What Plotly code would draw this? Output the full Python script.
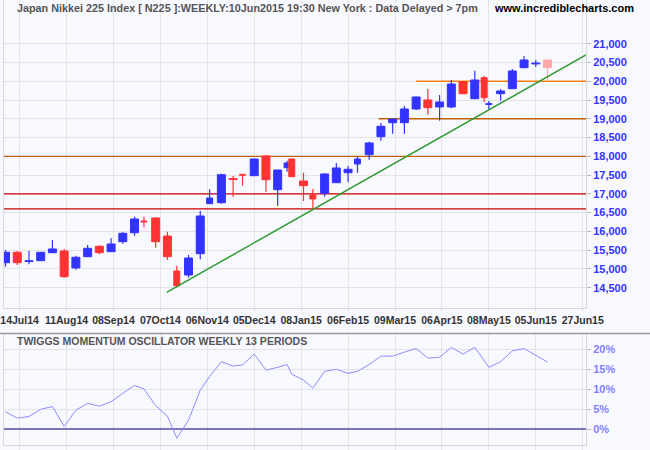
import numpy as np
import plotly.graph_objects as go

# ---------------- data ----------------
# trading sessions in each weekly bar (holiday weeks are shorter)
sessions = [5, 5, 5, 5, 5, 5, 5, 5, 5, 5, 5, 5,
            4, 5, 5, 4, 5, 5, 4, 5, 5, 4, 5, 5, 5, 4, 2, 5, 4, 5, 5, 5, 4,
            5, 5, 5, 5, 5, 5, 5, 5, 5, 5,
            4, 2,
            5, 5, 5, 5, 5]

opens = [15166, 15443, 15195, 15219, 15432, 15478, 15025, 15326, 15603, 15459,
         15725, 15965, 16265, 16357, 15877, 14945, 14838, 15406, 16738, 16764,
         17395, 17510, 17484, 18008, 17111, 17697, 17928, 17342, 16969, 17015,
         17297, 17563, 17795, 18043, 18522, 18895, 18895, 19260, 19500, 19314,
         19314, 19988, 19535, 20094, 19380, 19668, 19801, 20361, 20460, 20566]
highs = [15504, 15478, 15478, 15450, 15771, 15531, 15352, 15637, 15629, 15816,
         15984, 16391, 16391, 16370, 15992, 15078, 15371, 16551, 17121, 17537,
         17476, 17515, 17935, 18043, 17640, 17883, 17935, 17563, 17129, 17540,
         17822, 17742, 17990, 18389, 18887, 19000, 19340, 19590, 19793, 19633,
         20033, 20000, 20281, 20140, 19474, 19793, 20326, 20672, 20574, 20566]
lows = [15059, 15105, 15123, 15210, 15425, 14766, 14979, 15320, 15390, 15450,
        15672, 15885, 16109, 15565, 15238, 14511, 14766, 15256, 16730, 16738,
        16924, 17217, 17480, 17057, 16684, 17590, 17450, 16810, 16588, 16924,
        17290, 17308, 17563, 17910, 18416, 18602, 18602, 19234, 19109, 18949,
        19280, 19660, 19519, 19439, 19260, 19482, 19795, 20345, 20379, 20041]
closes = [15443, 15166, 15205, 15443, 15531, 14793, 15310, 15549, 15432, 15664,
          15949, 16330, 16250, 15725, 15326, 14553, 15291, 16410, 16889, 17510,
          17380, 17495, 17928, 17377, 17635, 17822, 17457, 17217, 16863, 17529,
          17689, 17654, 17928, 18355, 18800, 18994, 19260, 19580, 19295, 19447,
          19926, 19668, 20033, 19561, 19392, 19740, 20273, 20566, 20472, 20361]

# Twiggs Momentum Oscillator (13 weeks), percent
momentum = [4.4, 2.8, 3.2, 5.0, 5.7, 0.7, 4.8, 6.5, 5.8, 6.9,
            9.0, 11.0, 10.1, 5.9, 3.3, -2.2, 2.3, 9.8, 13.2, 16.9,
            15.8, 16.1, 18.8, 14.8, 15.5, 16.2, 13.8, 12.3, 10.3, 14.5,
            15.0, 14.0, 14.5, 16.2, 18.3, 18.3, 19.3, 20.2, 17.8, 18.0,
            20.5, 18.8, 20.5, 17.0, 15.5, 16.9, 19.6, 20.2, 18.6, 16.8]

tick_labels = ["14Jul14", "11Aug14", "08Sep14", "07Oct14", "06Nov14", "05Dec14",
               "08Jan15", "06Feb15", "09Mar15", "06Apr15", "08May15", "05Jun15",
               "27Jun15"]
first_tick_session = 6
tick_step = 20

price_ticks = list(range(14500, 21001, 500))
mom_ticks = [0, 5, 10, 15, 20]

# horizontal support/resistance levels (price, starting session or None = full)
levels = [16600, 17000, 18000, 19000, 20000]
level_start = [None, None, None, 159, 175]
level_colors = ["#cc0000", "#cc0000", "#c06000", "#c06000", "#f08010"]

# trendline anchors (session, price)
trend_x = [68.7, 247.4]
trend_y = [14377, 20700]

# ---------------- build ----------------
x = np.cumsum(sessions) - sessions[0]
n = len(x)
BLUE, RED, PINK = "#3333ff", "#ff3333", "#ffaaaa"
colors = []
for i in range(n):
    if i == n - 1:
        colors.append(PINK)
    elif closes[i] >= opens[i]:
        colors.append(BLUE)
    else:
        colors.append(RED)

fig = go.Figure()

xr = [-0.64, 247.4]

# levels
for lv, st, lc in zip(levels, level_start, level_colors):
    fig.add_shape(type="line", xref="x", yref="y",
                  x0=xr[0] if st is None else st, x1=xr[1], y0=lv, y1=lv,
                  line=dict(color=lc, width=1.3), layer="between")

for c in [BLUE, RED, PINK]:
    idx = [i for i in range(n) if colors[i] == c]
    wx, wy = [], []
    for i in idx:
        wx += [x[i], x[i], None]
        wy += [lows[i], highs[i], None]
    fig.add_trace(go.Scatter(x=wx, y=wy, mode="lines",
                             line=dict(color=c, width=1.2),
                             hoverinfo="skip", xaxis="x", yaxis="y"))
    base = [min(opens[i], closes[i]) for i in idx]
    h = [max(abs(closes[i] - opens[i]), 25) for i in idx]
    w = [3.4 if sessions[i] >= 5 else 2.55 for i in idx]
    fig.add_trace(go.Bar(x=[x[i] for i in idx], y=h, base=base, width=w,
                         marker=dict(color=c, line=dict(color=c, width=1)),
                         xaxis="x", yaxis="y"))

fig.add_trace(go.Scatter(x=trend_x, y=trend_y, mode="lines",
                         line=dict(color="#2f9a2f", width=1.5),
                         xaxis="x", yaxis="y"))

fig.add_trace(go.Scatter(x=x, y=momentum, mode="lines",
                         line=dict(color="#8c8cff", width=1),
                         xaxis="x2", yaxis="y2"))

tickvals = [first_tick_session + tick_step * k for k in range(len(tick_labels))]

FONT = "Liberation Sans, Arial"
GRID = "#e4e4e4"
BG = "#f8f8ff"
dom_x = [4 / 650, 586 / 650]

fig.update_layout(
    width=650, height=450,
    margin=dict(l=0, r=0, t=0, b=0, autoexpand=False),
    paper_bgcolor=BG, plot_bgcolor=BG,
    barmode="overlay", showlegend=False,
    xaxis=dict(domain=dom_x, range=xr, anchor="y", automargin=False,
               tickvals=tickvals, ticktext=tick_labels, tickangle=0,
               ticklabeloverflow="allow",
               showgrid=True, gridcolor=GRID, zeroline=False,
               ticks="outside", ticklen=2, tickcolor=GRID,
               tickfont=dict(family=FONT, size=10.5, color="#333333", weight="bold"),
               showline=True, linecolor="#d8d8d8", mirror=True),
    yaxis=dict(domain=[1 - 308 / 450, 1], range=[13959, 22164], side="right",
               automargin=False,
               tickvals=price_ticks, tickformat=",d",
               showgrid=True, gridcolor=GRID, zeroline=False,
               ticks="outside", ticklen=4, tickcolor="#bbbbbb",
               tickfont=dict(family=FONT, size=11,
                             color="#3333ff", weight="bold"),
               showline=True, linecolor="#d8d8d8", mirror=True),
    xaxis2=dict(domain=dom_x, range=xr, anchor="y2", matches="x",
                automargin=False,
                tickvals=tickvals, showticklabels=False,
                showgrid=True, gridcolor=GRID, zeroline=False,
                ticks="outside", ticklen=4, tickcolor=GRID,
                showline=True, linecolor="#d8d8d8", mirror=True),
    yaxis2=dict(domain=[1 - 445 / 450, 1 - 334 / 450], range=[-3.92, 23.83],
                side="right", tickvals=mom_ticks, automargin=False,
                ticktext=[f"{v}%" for v in mom_ticks],
                showgrid=True, gridcolor=GRID, zeroline=True,
                zerolinecolor="#7777bb", zerolinewidth=1.5,
                ticks="outside", ticklen=4, tickcolor="#bbbbbb",
                tickfont=dict(family=FONT, size=11,
                              color="#8080ff", weight="bold"),
                showline=True, linecolor="#d8d8d8", mirror=True),
)

fig.add_shape(type="line", xref="paper", yref="paper", x0=0, x1=1,
              y0=1 - 333.5 / 450, y1=1 - 333.5 / 450,
              line=dict(color="#9a9a9a", width=1.5))

fig.add_annotation(xref="paper", yref="paper", x=15 / 650, y=1 - 8 / 450,
                   xanchor="left", yanchor="middle", showarrow=False,
                   text="Japan Nikkei 225 Index [ N225 ]:WEEKLY:10Jun2015 19:30 New York : Data Delayed > 7pm",
                   font=dict(family=FONT, size=10.8, color="#555555", weight="bold"))
fig.add_annotation(xref="paper", yref="paper", x=636 / 650, y=1 - 8 / 450,
                   xanchor="right", yanchor="middle", showarrow=False,
                   text="www.incrediblecharts.com",
                   font=dict(family=FONT, size=11, color="#000000", weight="bold"))
fig.add_annotation(xref="paper", yref="paper", x=15 / 650, y=1 - 341 / 450,
                   xanchor="left", yanchor="middle", showarrow=False,
                   text="TWIGGS MOMENTUM OSCILLATOR WEEKLY 13 PERIODS",
                   font=dict(family=FONT, size=10.5, color="#555555", weight="bold"))

fig.write_html("out.html")
